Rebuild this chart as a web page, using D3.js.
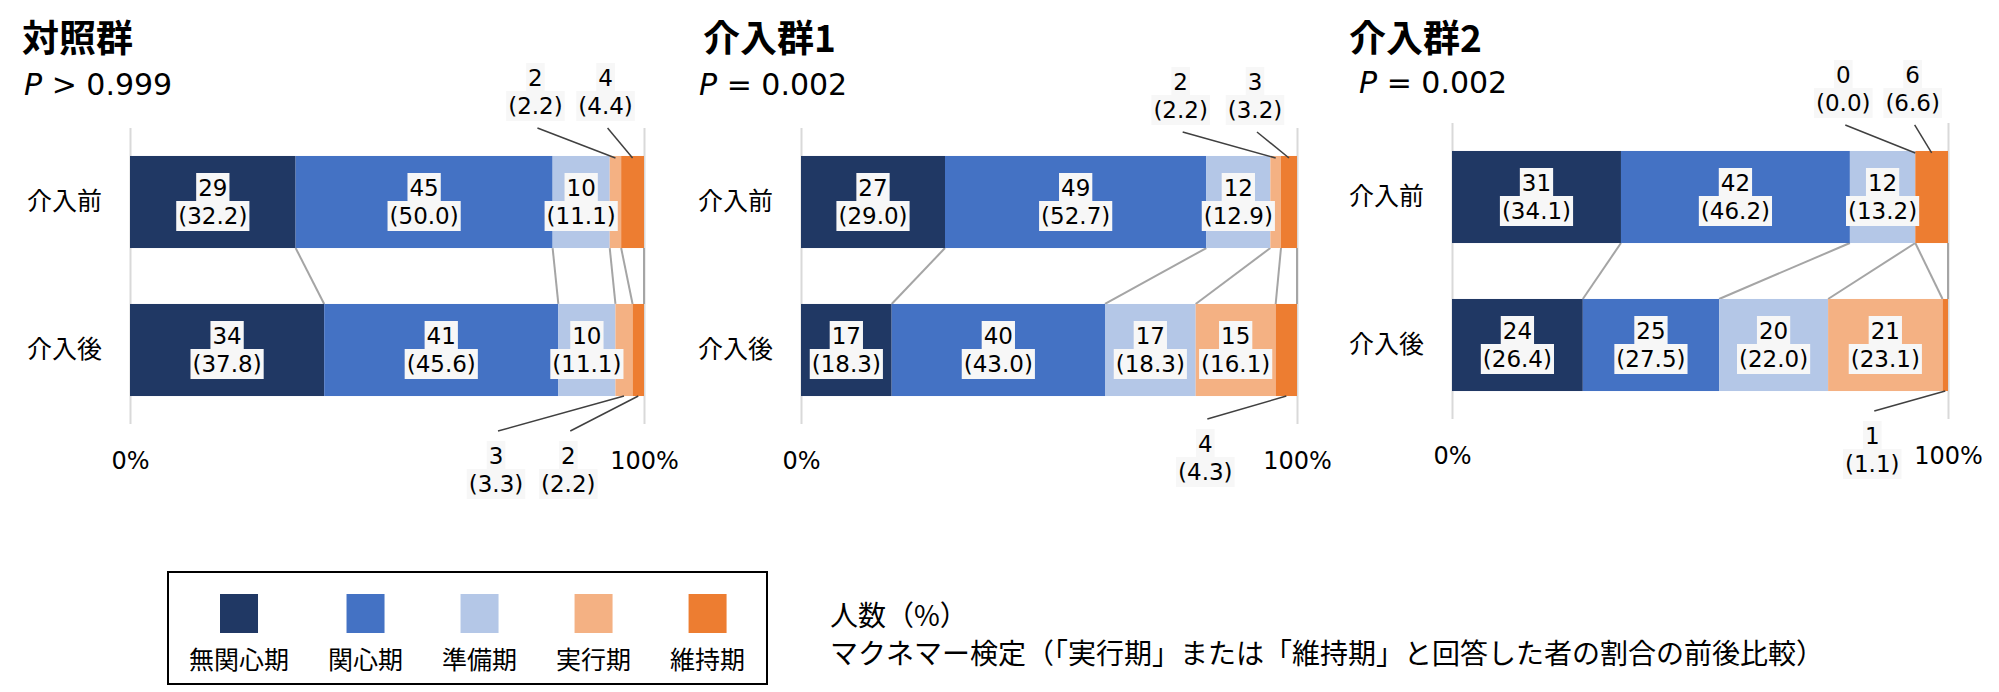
<!DOCTYPE html>
<html lang="ja">
<head>
<meta charset="utf-8">
<script src="https://cdn.jsdelivr.net/npm/d3@7"></script>
<style>
  body { margin: 0; background: #fff; }
  svg text { font-family: "DejaVu Sans", "Noto Sans CJK JP", sans-serif; fill: #000; }
  svg text.jp { font-family: "Noto Sans CJK JP", sans-serif; }
</style>
</head>
<body>
<svg id="chart" width="1999" height="692"></svg>
<script>
// data
const groups = ['対照群', '介入群1', '介入群2']
const pSigns = ['>', '=', '=']
const pValues = ['0.999', '0.002', '0.002']
const timepoints = ['介入前', '介入後']
const stages = ['無関心期', '関心期', '準備期', '実行期', '維持期']
const counts = [
  [[29, 45, 10, 2, 4], [34, 41, 10, 3, 2]],
  [[27, 49, 12, 2, 3], [17, 40, 17, 15, 4]],
  [[31, 42, 12, 0, 6], [24, 25, 20, 21, 1]],
]
const percents = [
  [[32.2, 50.0, 11.1, 2.2, 4.4], [37.8, 45.6, 11.1, 3.3, 2.2]],
  [[29.0, 52.7, 12.9, 2.2, 3.2], [18.3, 43.0, 18.3, 16.1, 4.3]],
  [[34.1, 46.2, 13.2, 0.0, 6.6], [26.4, 27.5, 22.0, 23.1, 1.1]],
]
const notes = ['人数（%）', 'マクネマー検定（「実行期」または「維持期」と回答した者の割合の前後比較）']

// styles / layout
const stageColors = ['#203864', '#4472C4', '#B4C7E7', '#F4B183', '#ED7D31']
const panels = [
  { left: 130, right: 644, top: 128, bottom: 424, titleX: 22, pX: 24, pY: 84 },
  { left: 801, right: 1297, top: 128, bottom: 424, titleX: 703, pX: 699, pY: 84 },
  { left: 1452, right: 1948, top: 123, bottom: 419, titleX: 1349, pX: 1359, pY: 82 },
]
// small segments labelled outside the bar: g = group, r = row, s = stage
const callouts = [
  { g: 0, r: 0, s: 3, dx: -80, dy: -78 },
  { g: 0, r: 0, s: 4, dx: -27, dy: -78 },
  { g: 0, r: 1, s: 3, dx: -128, dy: 60 },
  { g: 0, r: 1, s: 4, dx: -70, dy: 60 },
  { g: 1, r: 0, s: 3, dx: -95, dy: -74 },
  { g: 1, r: 0, s: 4, dx: -34, dy: -74 },
  { g: 1, r: 1, s: 4, dx: -81, dy: 48 },
  { g: 2, r: 0, s: 3, dx: -72, dy: -76 },
  { g: 2, r: 0, s: 4, dx: -19, dy: -76 },
  { g: 2, r: 1, s: 4, dx: -73, dy: 45 },
]
const lineGap = 28
const labelSize = 23

const svg = d3.select('#chart')

function drawLabel(parent, cx, cy, lines) {
  let g = parent.append('g').attr('class', 'data-label')
  lines.forEach((txt, i) => {
    let t = g.append('text')
      .attr('x', cx)
      .attr('y', cy + i * lineGap)
      .attr('text-anchor', 'middle')
      .attr('dominant-baseline', 'central')
      .attr('font-size', labelSize)
      .text(txt)
    let b = t.node().getBBox()
    g.insert('rect', 'text')
      .attr('x', b.x - 2)
      .attr('y', cy + i * lineGap - 15)
      .attr('width', b.width + 4)
      .attr('height', 30)
      .attr('fill', '#F7F7F7')
  })
}

groups.forEach((name, gi) => {
  let p = panels[gi]
  let layer = svg.append('g').attr('class', 'panel')

  let x = d3.scaleLinear().domain([0, 1]).range([p.left, p.right])
  let y = d3.scaleBand().domain(timepoints)
    .range([p.top, p.bottom])
    .paddingInner(0.378)
    .paddingOuter(0.189)
  let bw = y.bandwidth()

  let rows = timepoints.map((t, r) => {
    let o = { row: t }
    stages.forEach((s, k) => { o[s] = counts[gi][r][k] })
    return o
  })
  let series = d3.stack().keys(stages).offset(d3.stackOffsetExpand)(rows)

  // title + p value
  layer.append('text')
    .attr('class', 'jp')
    .attr('x', p.titleX)
    .attr('y', 36)
    .attr('dominant-baseline', 'central')
    .attr('font-size', 37)
    .attr('font-weight', 'bold')
    .text(name)
  let pt = layer.append('text')
    .attr('x', p.pX)
    .attr('y', p.pY)
    .attr('dominant-baseline', 'central')
    .attr('font-size', 30)
  pt.append('tspan').attr('font-style', 'italic').text('P')
  pt.append('tspan').text(` ${pSigns[gi]} ${pValues[gi]}`)

  // 0% / 100% gridlines and labels
  let xAxis = layer.append('g')
    .attr('transform', `translate(0,${p.bottom})`)
    .call(d3.axisBottom(x)
      .tickValues([0, 1])
      .tickFormat(d3.format('.0%'))
      .tickSize(-(p.bottom - p.top))
      .tickPadding(28))
  xAxis.select('.domain').remove()
  xAxis.selectAll('line').attr('stroke', '#D9D9D9').attr('stroke-width', 2)
  xAxis.selectAll('text').attr('font-size', 24).attr('font-family', null)

  let yAxis = layer.append('g')
    .attr('transform', `translate(${p.left},0)`)
    .call(d3.axisLeft(y).tickSize(0).tickPadding(28))
  yAxis.select('.domain').remove()
  yAxis.selectAll('text').attr('class', 'jp').attr('font-size', 25).attr('font-family', null)

  // series lines between the two bars
  series.forEach(s => {
    layer.append('line')
      .attr('x1', x(s[0][1]))
      .attr('y1', y(timepoints[0]) + bw)
      .attr('x2', x(s[1][1]))
      .attr('y2', y(timepoints[1]))
      .attr('stroke', '#A5A5A5')
      .attr('stroke-width', 2)
  })

  // bars
  layer.selectAll('g.stage')
    .data(series)
    .join('g')
    .attr('class', 'stage')
    .attr('fill', (d, k) => stageColors[k])
    .selectAll('rect')
    .data(d => d)
    .join('rect')
    .attr('x', d => x(d[0]))
    .attr('y', d => y(d.data.row))
    .attr('width', d => x(d[1]) - x(d[0]))
    .attr('height', bw)

  // inside labels
  series.forEach((s, k) => {
    s.forEach((d, r) => {
      if (callouts.some(c => c.g === gi && c.r === r && c.s === k)) return
      let cx = (x(d[0]) + x(d[1])) / 2
      let cy = y(d.data.row) + bw / 2 - lineGap / 2
      drawLabel(layer, cx, cy, [counts[gi][r][k], `(${percents[gi][r][k].toFixed(1)})`])
    })
  })

  // callout labels with leader lines
  callouts.filter(c => c.g === gi).forEach(c => {
    let d = series[c.s][c.r]
    let segX = (x(d[0]) + x(d[1])) / 2
    let top = c.r === 0
    let edge = top ? y(d.data.row) : y(d.data.row) + bw
    let lx = segX + c.dx
    let ly = edge + c.dy
    layer.append('line')
      .attr('x1', lx + 2)
      .attr('y1', top ? ly + lineGap + 22 : ly - 25)
      .attr('x2', segX)
      .attr('y2', top ? edge + 2 : edge)
      .attr('stroke', '#404040')
      .attr('stroke-width', 1.5)
    drawLabel(layer, lx, ly, [counts[gi][c.r][c.s], `(${percents[gi][c.r][c.s].toFixed(1)})`])
  })
})

// legend
let legend = svg.append('g').attr('class', 'legend')
legend.append('rect')
  .attr('x', 168).attr('y', 572)
  .attr('width', 599).attr('height', 112)
  .attr('fill', '#fff')
  .attr('stroke', '#000')
  .attr('stroke-width', 2)
let lx = 189
stages.forEach((s, k) => {
  let t = legend.append('text')
    .attr('class', 'jp')
    .attr('y', 658)
    .attr('text-anchor', 'middle')
    .attr('dominant-baseline', 'central')
    .attr('font-size', 25)
    .text(s)
  let w = t.node().getComputedTextLength()
  let cx = lx + w / 2
  t.attr('x', cx)
  legend.append('rect')
    .attr('x', cx - 19).attr('y', 594)
    .attr('width', 38).attr('height', 39)
    .attr('fill', stageColors[k])
  lx += w + 39
})

// notes
notes.forEach((n, i) => {
  svg.append('text')
    .attr('class', 'jp')
    .attr('x', 830)
    .attr('y', 614 + i * 38)
    .attr('dominant-baseline', 'central')
    .attr('font-size', 28)
    .text(n)
})
</script>
</body>
</html>
